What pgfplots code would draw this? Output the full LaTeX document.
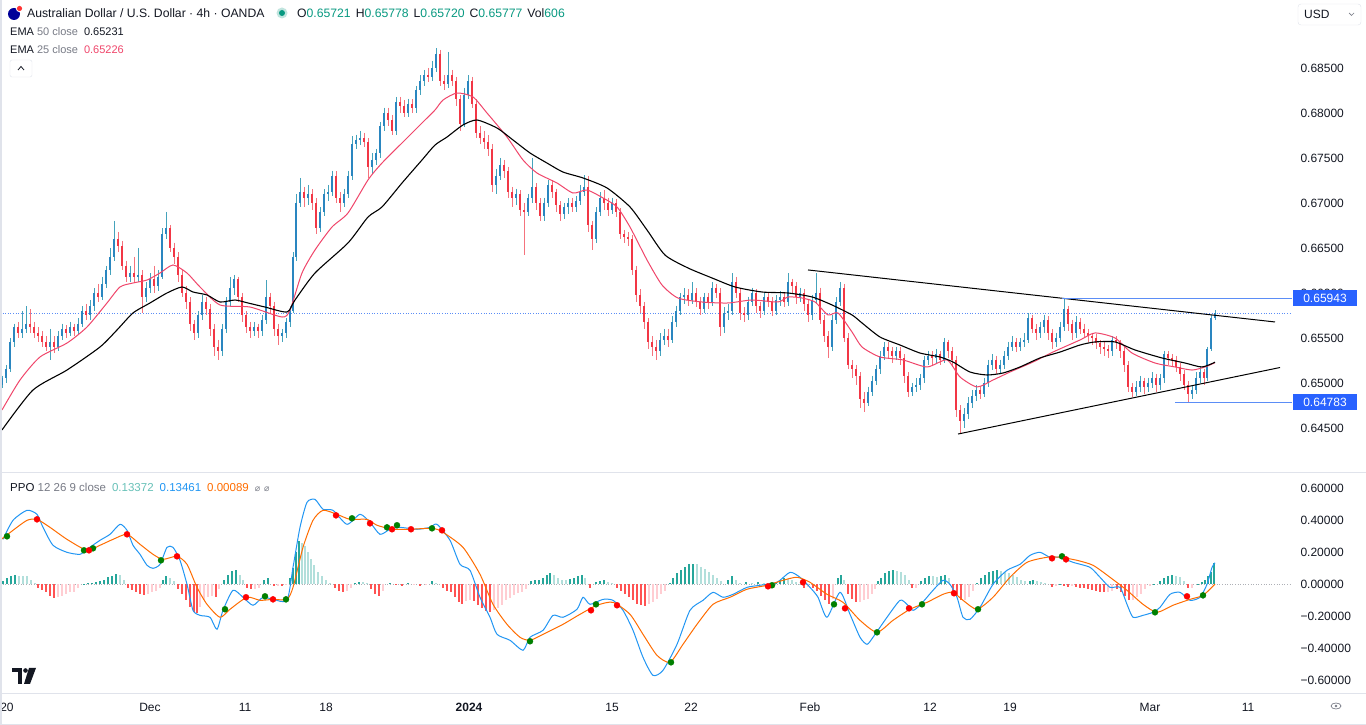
\documentclass[border=0pt]{standalone}
\usepackage{pgfplots}
\usepackage{pgfplotstable}
\pgfplotsset{compat=1.18}
\usepackage{fontspec}
\setmainfont{Liberation Sans}
\newfontfamily\dejavu{DejaVu Sans}
\pgfdeclarelayer{background}
\pgfsetlayers{background,main}

\definecolor{txt}{HTML}{131722}
\definecolor{gry}{HTML}{787B86}
\definecolor{bord}{HTML}{E0E3EB}
\definecolor{upb}{HTML}{2A86C0}
\definecolor{upw}{HTML}{45A3BC}
\definecolor{dnb}{HTML}{F23645}
\definecolor{dnw}{HTML}{F5737D}
\definecolor{emap}{HTML}{F0466B}
\definecolor{ppob}{HTML}{2196F3}
\definecolor{ppoo}{HTML}{FF6D00}
\definecolor{hdk}{HTML}{26A69A}
\definecolor{hlt}{HTML}{B2DFDB}
\definecolor{rdk}{HTML}{FF5252}
\definecolor{rlt}{HTML}{FFCDD2}
\definecolor{lvl}{HTML}{2962FF}
\definecolor{lvll}{HTML}{5B8DF6}
\definecolor{grn}{HTML}{089981}
\definecolor{dotg}{HTML}{008000}
\definecolor{dotr}{HTML}{FF0000}

\newcommand\fs[1]{\fontsize{#1}{#1}\selectfont}

% 4h candles, x in pixels of the original chart
\pgfplotstableread{
x o h l c
2 0.6498 0.6508 0.6494 0.6505
6 0.6505 0.6520 0.6500 0.6515
10 0.6515 0.6550 0.6512 0.6545
14 0.6545 0.6566 0.6540 0.6562
18 0.6562 0.6568 0.6550 0.6555
22 0.6555 0.6580 0.6550 0.6560
26 0.6560 0.6585 0.6555 0.6566
30 0.6566 0.6582 0.6556 0.6562
34 0.6562 0.6568 0.6550 0.6556
38 0.6556 0.6562 0.6545 0.6552
42 0.6552 0.6558 0.6540 0.6545
46 0.6545 0.6552 0.6535 0.6540
50 0.6540 0.6560 0.6525 0.6546
54 0.6546 0.6552 0.6533 0.6540
58 0.6540 0.6558 0.6536 0.6552
62 0.6552 0.6566 0.6548 0.6560
66 0.6560 0.6564 0.6550 0.6556
70 0.6556 0.6568 0.6552 0.6562
74 0.6562 0.6566 0.6552 0.6558
78 0.6558 0.6572 0.6554 0.6566
82 0.6566 0.6585 0.6562 0.6580
86 0.6580 0.6588 0.6570 0.6575
90 0.6575 0.6592 0.6570 0.6585
94 0.6585 0.6605 0.6580 0.6600
98 0.6600 0.6610 0.6590 0.6596
102 0.6596 0.6618 0.6592 0.6610
106 0.6610 0.6630 0.6605 0.6625
110 0.6625 0.6650 0.6620 0.6640
114 0.6640 0.6680 0.6636 0.6660
118 0.6660 0.6668 0.6645 0.6652
122 0.6652 0.6658 0.6625 0.6630
126 0.6630 0.6636 0.6612 0.6618
130 0.6618 0.6630 0.6612 0.6622
134 0.6622 0.6640 0.6612 0.6618
138 0.6618 0.6650 0.6612 0.6620
142 0.6620 0.6625 0.6578 0.6595
146 0.6595 0.6612 0.6590 0.6605
150 0.6605 0.6622 0.6600 0.6615
154 0.6615 0.6630 0.6600 0.6608
158 0.6608 0.6625 0.6602 0.6618
162 0.6618 0.6672 0.6615 0.6665
166 0.6665 0.6690 0.6660 0.6672
170 0.6672 0.6675 0.6645 0.6650
174 0.6650 0.6656 0.6632 0.6640
178 0.6640 0.6645 0.6612 0.6620
182 0.6620 0.6626 0.6595 0.6600
186 0.6600 0.6608 0.6582 0.6590
190 0.6590 0.6595 0.6558 0.6565
194 0.6565 0.6570 0.6548 0.6556
198 0.6556 0.6580 0.6550 0.6575
202 0.6575 0.6598 0.6570 0.6590
206 0.6590 0.6595 0.6575 0.6582
210 0.6582 0.6588 0.6552 0.6560
214 0.6560 0.6565 0.6530 0.6540
218 0.6540 0.6548 0.6525 0.6535
222 0.6535 0.6565 0.6530 0.6560
226 0.6560 0.6595 0.6555 0.6590
230 0.6590 0.6618 0.6585 0.6605
234 0.6605 0.6620 0.6598 0.6615
238 0.6615 0.6618 0.6590 0.6595
242 0.6595 0.6600 0.6568 0.6575
246 0.6575 0.6580 0.6555 0.6562
250 0.6562 0.6568 0.6550 0.6558
254 0.6558 0.6568 0.6552 0.6562
258 0.6562 0.6566 0.6550 0.6558
262 0.6558 0.6575 0.6552 0.6570
266 0.6570 0.6614 0.6565 0.6595
270 0.6595 0.6600 0.6578 0.6585
274 0.6585 0.6590 0.6552 0.6560
278 0.6560 0.6566 0.6542 0.6552
282 0.6552 0.6560 0.6545 0.6555
286 0.6555 0.6572 0.6550 0.6568
290 0.6568 0.6585 0.6562 0.6580
293 0.6580 0.6645 0.6578 0.6640
296 0.6640 0.6710 0.6636 0.6700
300 0.6700 0.6728 0.6695 0.6712
304 0.6712 0.6718 0.6695 0.6705
308 0.6705 0.6720 0.6698 0.6710
312 0.6710 0.6715 0.6692 0.6700
316 0.6700 0.6705 0.6665 0.6672
320 0.6672 0.6695 0.6668 0.6690
324 0.6690 0.6715 0.6685 0.6710
328 0.6710 0.6720 0.6702 0.6712
332 0.6712 0.6736 0.6708 0.6730
336 0.6730 0.6735 0.6700 0.6705
340 0.6705 0.6712 0.6690 0.6700
344 0.6700 0.6716 0.6695 0.6710
348 0.6710 0.6736 0.6705 0.6730
352 0.6730 0.6774 0.6726 0.6765
356 0.6765 0.6776 0.6760 0.6770
360 0.6770 0.6780 0.6764 0.6772
364 0.6772 0.6778 0.6762 0.6768
368 0.6768 0.6772 0.6728 0.6740
372 0.6740 0.6755 0.6732 0.6748
376 0.6748 0.6760 0.6742 0.6755
380 0.6755 0.6790 0.6750 0.6785
384 0.6785 0.6806 0.6780 0.6800
388 0.6800 0.6806 0.6786 0.6792
392 0.6792 0.6798 0.6775 0.6780
396 0.6780 0.6818 0.6776 0.6812
400 0.6812 0.6818 0.6800 0.6808
404 0.6808 0.6814 0.6795 0.6800
408 0.6800 0.6816 0.6795 0.6810
412 0.6810 0.6815 0.6800 0.6805
416 0.6805 0.6830 0.6800 0.6825
420 0.6825 0.6842 0.6820 0.6835
424 0.6835 0.6848 0.6830 0.6842
428 0.6842 0.6850 0.6834 0.6840
432 0.6840 0.6858 0.6836 0.6850
436 0.6850 0.6872 0.6845 0.6866
440 0.6866 0.6870 0.6830 0.6835
444 0.6835 0.6842 0.6826 0.6832
448 0.6832 0.6868 0.6828 0.6842
452 0.6842 0.6848 0.6830 0.6836
456 0.6836 0.6840 0.6808 0.6815
460 0.6815 0.6820 0.6780 0.6788
464 0.6788 0.6828 0.6784 0.6820
468 0.6820 0.6842 0.6815 0.6835
472 0.6835 0.6840 0.6805 0.6810
476 0.6810 0.6815 0.6772 0.6778
480 0.6778 0.6785 0.6765 0.6772
484 0.6772 0.6780 0.6760 0.6768
488 0.6768 0.6775 0.6752 0.6760
492 0.6760 0.6765 0.6712 0.6720
496 0.6720 0.6738 0.6710 0.6730
500 0.6730 0.6750 0.6725 0.6742
504 0.6742 0.6748 0.6728 0.6735
508 0.6735 0.6740 0.6705 0.6712
512 0.6712 0.6718 0.6695 0.6705
516 0.6705 0.6716 0.6698 0.6710
520 0.6710 0.6714 0.6685 0.6692
524 0.6692 0.6700 0.6642 0.6690
528 0.6690 0.6710 0.6685 0.6705
532 0.6705 0.6750 0.6700 0.6718
536 0.6718 0.6722 0.6692 0.6700
540 0.6700 0.6705 0.6680 0.6685
544 0.6685 0.6706 0.6680 0.6700
548 0.6700 0.6726 0.6695 0.6720
552 0.6720 0.6725 0.6705 0.6712
556 0.6712 0.6716 0.6690 0.6698
560 0.6698 0.6702 0.6680 0.6688
564 0.6688 0.6700 0.6682 0.6695
568 0.6695 0.6705 0.6688 0.6700
572 0.6700 0.6706 0.6690 0.6696
576 0.6696 0.6708 0.6690 0.6702
580 0.6702 0.6720 0.6698 0.6712
584 0.6712 0.6731 0.6708 0.6718
588 0.6718 0.6730 0.6668 0.6675
592 0.6675 0.6680 0.6648 0.6660
596 0.6660 0.6695 0.6655 0.6690
600 0.6690 0.6712 0.6685 0.6705
604 0.6705 0.6714 0.6692 0.6700
608 0.6700 0.6706 0.6686 0.6692
612 0.6692 0.6706 0.6688 0.6700
616 0.6700 0.6704 0.6684 0.6690
620 0.6690 0.6694 0.6660 0.6665
624 0.6665 0.6670 0.6655 0.6662
628 0.6662 0.6668 0.6652 0.6660
632 0.6660 0.6664 0.6620 0.6625
636 0.6625 0.6630 0.6590 0.6598
640 0.6598 0.6604 0.6578 0.6585
644 0.6585 0.6590 0.6560 0.6568
648 0.6568 0.6572 0.6538 0.6545
652 0.6545 0.6552 0.6530 0.6540
656 0.6540 0.6548 0.6526 0.6535
660 0.6535 0.6555 0.6530 0.6548
664 0.6548 0.6560 0.6542 0.6552
668 0.6552 0.6560 0.6540 0.6548
672 0.6548 0.6574 0.6544 0.6568
676 0.6568 0.6586 0.6562 0.6580
680 0.6580 0.6600 0.6575 0.6595
684 0.6595 0.6605 0.6588 0.6598
688 0.6598 0.6604 0.6586 0.6592
692 0.6592 0.6612 0.6588 0.6600
696 0.6600 0.6605 0.6584 0.6590
700 0.6590 0.6596 0.6575 0.6582
704 0.6582 0.6600 0.6578 0.6595
708 0.6595 0.6600 0.6582 0.6590
712 0.6590 0.6612 0.6585 0.6605
716 0.6605 0.6610 0.6594 0.6600
720 0.6600 0.6605 0.6552 0.6562
724 0.6562 0.6584 0.6556 0.6578
728 0.6578 0.6588 0.6570 0.6580
732 0.6580 0.6622 0.6576 0.6612
736 0.6612 0.6618 0.6594 0.6600
740 0.6600 0.6605 0.6570 0.6578
744 0.6578 0.6584 0.6568 0.6575
748 0.6575 0.6596 0.6570 0.6590
752 0.6590 0.6606 0.6586 0.6600
756 0.6600 0.6604 0.6578 0.6585
760 0.6585 0.6590 0.6572 0.6580
764 0.6580 0.6600 0.6575 0.6595
768 0.6595 0.6600 0.6584 0.6590
772 0.6590 0.6595 0.6574 0.6580
776 0.6580 0.6598 0.6576 0.6592
780 0.6592 0.6602 0.6586 0.6595
784 0.6595 0.6600 0.6584 0.6590
788 0.6590 0.6622 0.6586 0.6612
792 0.6612 0.6616 0.6600 0.6608
796 0.6608 0.6612 0.6588 0.6595
800 0.6595 0.6606 0.6590 0.6600
804 0.6600 0.6604 0.6580 0.6588
808 0.6588 0.6592 0.6568 0.6575
812 0.6575 0.6598 0.6570 0.6592
816 0.6592 0.6622 0.6588 0.6600
820 0.6600 0.6606 0.6565 0.6570
824 0.6570 0.6576 0.6545 0.6552
828 0.6552 0.6558 0.6528 0.6540
832 0.6540 0.6575 0.6535 0.6570
836 0.6570 0.6595 0.6565 0.6590
840 0.6590 0.6612 0.6585 0.6605
844 0.6605 0.6610 0.6545 0.6550
848 0.6550 0.6555 0.6515 0.6520
852 0.6520 0.6525 0.6505 0.6515
856 0.6515 0.6520 0.6498 0.6508
860 0.6508 0.6512 0.6472 0.6482
864 0.6482 0.6490 0.6468 0.6478
868 0.6478 0.6496 0.6474 0.6490
872 0.6490 0.6508 0.6486 0.6502
876 0.6502 0.6520 0.6498 0.6515
880 0.6515 0.6536 0.6510 0.6530
884 0.6530 0.6545 0.6525 0.6540
888 0.6540 0.6545 0.6528 0.6535
892 0.6535 0.6540 0.6522 0.6530
896 0.6530 0.6540 0.6525 0.6535
900 0.6535 0.6540 0.6520 0.6528
904 0.6528 0.6532 0.6500 0.6508
908 0.6508 0.6512 0.6484 0.6490
912 0.6490 0.6500 0.6485 0.6495
916 0.6495 0.6505 0.6490 0.6498
920 0.6498 0.6510 0.6492 0.6505
924 0.6505 0.6530 0.6500 0.6525
928 0.6525 0.6536 0.6520 0.6530
932 0.6530 0.6535 0.6520 0.6528
936 0.6528 0.6538 0.6522 0.6532
940 0.6532 0.6536 0.6520 0.6526
944 0.6526 0.6550 0.6522 0.6545
948 0.6545 0.6548 0.6528 0.6535
952 0.6535 0.6540 0.6518 0.6525
956 0.6525 0.6530 0.6462 0.6470
960 0.6470 0.6475 0.6444 0.6458
964 0.6458 0.6472 0.6450 0.6466
968 0.6466 0.6484 0.6460 0.6478
972 0.6478 0.6492 0.6472 0.6485
976 0.6485 0.6498 0.6480 0.6492
980 0.6492 0.6496 0.6482 0.6488
984 0.6488 0.6506 0.6484 0.6500
988 0.6500 0.6526 0.6495 0.6520
992 0.6520 0.6532 0.6514 0.6525
996 0.6525 0.6530 0.6510 0.6515
1000 0.6515 0.6526 0.6510 0.6520
1004 0.6520 0.6536 0.6515 0.6530
1008 0.6530 0.6546 0.6525 0.6540
1012 0.6540 0.6552 0.6535 0.6546
1016 0.6546 0.6550 0.6534 0.6540
1020 0.6540 0.6550 0.6535 0.6545
1024 0.6545 0.6555 0.6540 0.6548
1028 0.6548 0.6578 0.6544 0.6572
1032 0.6572 0.6576 0.6555 0.6560
1036 0.6560 0.6565 0.6548 0.6555
1040 0.6555 0.6568 0.6550 0.6562
1044 0.6562 0.6576 0.6556 0.6570
1048 0.6570 0.6574 0.6548 0.6555
1052 0.6555 0.6560 0.6538 0.6545
1056 0.6545 0.6556 0.6540 0.6550
1060 0.6550 0.6568 0.6545 0.6562
1064 0.6562 0.6594 0.6558 0.6582
1068 0.6582 0.6586 0.6558 0.6565
1072 0.6565 0.6570 0.6548 0.6555
1076 0.6555 0.6574 0.6550 0.6568
1080 0.6568 0.6572 0.6554 0.6560
1084 0.6560 0.6566 0.6550 0.6556
1088 0.6556 0.6560 0.6546 0.6552
1092 0.6552 0.6556 0.6542 0.6550
1096 0.6550 0.6554 0.6538 0.6544
1100 0.6544 0.6548 0.6532 0.6540
1104 0.6540 0.6546 0.6530 0.6538
1108 0.6538 0.6542 0.6528 0.6535
1112 0.6535 0.6552 0.6530 0.6548
1116 0.6548 0.6552 0.6538 0.6545
1120 0.6545 0.6548 0.6528 0.6535
1124 0.6535 0.6540 0.6512 0.6520
1128 0.6520 0.6524 0.6490 0.6496
1132 0.6496 0.6500 0.6484 0.6490
1136 0.6490 0.6502 0.6486 0.6496
1140 0.6496 0.6508 0.6490 0.6502
1144 0.6502 0.6506 0.6488 0.6495
1148 0.6495 0.6506 0.6490 0.6500
1152 0.6500 0.6512 0.6494 0.6506
1156 0.6506 0.6510 0.6490 0.6498
1160 0.6498 0.6510 0.6492 0.6505
1164 0.6505 0.6536 0.6500 0.6532
1168 0.6532 0.6536 0.6520 0.6528
1172 0.6528 0.6532 0.6518 0.6525
1176 0.6525 0.6530 0.6512 0.6518
1180 0.6518 0.6522 0.6502 0.6510
1184 0.6510 0.6514 0.6492 0.6498
1188 0.6498 0.6502 0.6479 0.6488
1192 0.6488 0.6498 0.6482 0.6492
1196 0.6492 0.6512 0.6488 0.6506
1200 0.6506 0.6518 0.6500 0.6512
1204 0.6512 0.6516 0.6498 0.6505
1207 0.6505 0.6540 0.6502 0.6538
1211 0.6538 0.6576 0.6535 0.6572
1215 0.6572 0.6581 0.6570 0.6578
}\candles

% EMA 50 (black)
\pgfplotstableread{
x y
2 0.64478
33 0.64922
67 0.65144
100 0.65400
117 0.65589
133 0.65778
150 0.65889
167 0.66000
182 0.66067
193 0.66011
207 0.65978
220 0.65900
235 0.65922
248 0.65889
265 0.65844
287 0.65789
295 0.65922
315 0.66222
348 0.66556
368 0.66844
382 0.66956
402 0.67222
422 0.67478
435 0.67644
447 0.67733
463 0.67867
477 0.67922
497 0.67833
513 0.67700
530 0.67556
547 0.67444
563 0.67344
583 0.67278
607 0.67167
630 0.66956
647 0.66700
665 0.66422
688 0.66278
712 0.66167
735 0.66067
762 0.66011
788 0.66000
812 0.65956
832 0.65867
852 0.65756
862 0.65667
880 0.65511
900 0.65422
920 0.65333
940 0.65289
953 0.65233
970 0.65122
987 0.65089
1003 0.65111
1020 0.65178
1040 0.65278
1060 0.65344
1080 0.65422
1095 0.65456
1115 0.65456
1135 0.65367
1162 0.65278
1185 0.65222
1202 0.65178
1215 0.65231
}\emaslow

% EMA 25 (pink)
\pgfplotstableread{
x y
2 0.64700
20 0.65033
40 0.65289
67 0.65444
87 0.65622
107 0.65889
120 0.66067
133 0.66111
147 0.66144
160 0.66222
173 0.66311
187 0.66222
200 0.66067
220 0.65867
250 0.65844
282 0.65733
290 0.65811
302 0.66222
315 0.66478
332 0.66733
348 0.66889
368 0.67256
382 0.67444
402 0.67667
422 0.67889
435 0.68033
443 0.68144
457 0.68222
473 0.68178
487 0.68000
507 0.67733
523 0.67478
537 0.67333
557 0.67222
573 0.67111
587 0.67144
603 0.67056
617 0.66956
630 0.66733
647 0.66367
662 0.66089
678 0.65944
702 0.65900
728 0.65889
752 0.65922
778 0.65900
788 0.65956
802 0.65944
815 0.65900
828 0.65756
838 0.65778
852 0.65567
862 0.65400
880 0.65289
903 0.65256
927 0.65178
947 0.65256
960 0.65067
977 0.64956
993 0.65033
1010 0.65122
1033 0.65233
1053 0.65344
1080 0.65478
1095 0.65556
1115 0.65500
1132 0.65333
1155 0.65222
1175 0.65178
1192 0.65144
1205 0.65178
1215 0.65226
}\emafast

% PPO line (blue)
\pgfplotstableread{
x y
3 0.281
13 0.400
27 0.4625
37 0.4375
43 0.356
53 0.244
67 0.200
80 0.1875
87 0.219
100 0.275
110 0.3125
120 0.375
127 0.3375
133 0.244
140 0.1875
147 0.119
153 0.100
160 0.125
167 0.231
173 0.231
180 0.150
187 0.000
193 -0.1625
200 -0.194
210 -0.206
217 -0.281
223 -0.1625
233 -0.0375
243 -0.081
253 -0.131
263 -0.081
273 -0.094
287 -0.100
293 0.106
300 0.356
307 0.5125
315 0.531
323 0.469
333 0.4625
347 0.375
360 0.4375
370 0.3875
380 0.3125
390 0.344
400 0.356
417 0.344
430 0.356
437 0.375
450 0.275
460 0.125
470 0.0875
480 -0.081
490 -0.206
497 -0.3125
510 -0.350
523 -0.4125
530 -0.331
543 -0.2875
553 -0.194
563 -0.206
577 -0.156
583 -0.081
590 -0.125
603 -0.094
613 -0.100
623 -0.1625
633 -0.2875
643 -0.456
653 -0.569
663 -0.5375
677 -0.375
690 -0.1625
703 -0.100
713 -0.050
723 -0.081
733 -0.0625
747 -0.019
760 -0.006
777 0.0125
790 0.075
800 0.044
810 -0.019
818 -0.081
827 -0.206
840 -0.050
850 -0.1875
860 -0.331
867 -0.375
873 -0.331
887 -0.206
900 -0.100
907 -0.125
913 -0.1625
920 -0.131
933 -0.0375
943 0.025
950 0.000
957 -0.081
963 -0.206
970 -0.219
980 -0.144
993 0.000
1007 0.0875
1020 0.125
1030 0.181
1040 0.200
1050 0.169
1060 0.169
1073 0.1375
1090 0.106
1100 0.044
1110 -0.019
1120 -0.019
1127 -0.125
1133 -0.206
1143 -0.194
1153 -0.175
1160 -0.144
1170 -0.0625
1180 -0.050
1190 -0.100
1200 -0.081
1207 0.000
1212 0.106
1215 0.1346
}\ppoline

% signal line (orange)
\pgfplotstableread{
x y
0 0.275
13 0.3375
27 0.400
37 0.406
50 0.356
67 0.281
87 0.2125
100 0.244
113 0.281
127 0.3125
140 0.250
153 0.1875
163 0.156
177 0.175
187 0.125
197 -0.019
207 -0.125
220 -0.206
230 -0.156
247 -0.081
260 -0.100
273 -0.094
287 -0.094
293 -0.019
303 0.231
313 0.400
323 0.4625
337 0.4375
350 0.406
367 0.406
377 0.369
393 0.344
410 0.344
433 0.350
443 0.325
463 0.231
480 0.0625
493 -0.125
507 -0.250
520 -0.331
530 -0.350
543 -0.3125
563 -0.250
580 -0.1875
597 -0.131
613 -0.1125
630 -0.1875
643 -0.3125
657 -0.444
670 -0.4875
683 -0.375
697 -0.250
713 -0.125
730 -0.081
747 -0.031
767 -0.006
783 0.025
797 0.044
810 0.0125
827 -0.0625
843 -0.1125
860 -0.225
877 -0.300
893 -0.225
910 -0.156
927 -0.1125
943 -0.0625
953 -0.050
963 -0.100
977 -0.156
993 -0.081
1010 0.044
1027 0.1375
1047 0.169
1060 0.169
1077 0.150
1093 0.119
1110 0.044
1127 -0.0375
1143 -0.125
1157 -0.175
1173 -0.131
1190 -0.094
1203 -0.069
1215 0.001
}\sigline

% histogram: k=0 rising above 0, 1 falling above 0, 2 falling below 0, 3 rising below 0
\pgfplotstableread{
x v k
3 0.02 0
7 0.04 0
11 0.055 0
15 0.06 0
19 0.055 1
23 0.055 1
27 0.05 1
31 0.03 1
35 0.01 1
38 -0.02 2
42 -0.035 2
46 -0.05 2
50 -0.075 2
54 -0.085 2
58 -0.08 3
62 -0.07 3
66 -0.06 3
70 -0.05 3
74 -0.045 3
78 -0.02 3
84 0.005 0
88 0.008 0
92 0.01 0
96 0.015 0
100 0.02 0
104 0.03 0
108 0.045 0
112 0.055 0
116 0.065 0
120 0.06 1
124 0.03 1
128 -0.02 2
132 -0.035 2
136 -0.045 2
140 -0.06 2
144 -0.065 2
148 -0.06 3
152 -0.05 3
156 -0.04 3
160 -0.02 3
163 0.03 0
166 0.05 0
170 0.04 1
174 0.02 1
178 -0.03 2
182 -0.06 2
186 -0.1 2
190 -0.14 2
194 -0.17 2
197 -0.18 2
200 -0.14 3
204 -0.1 3
208 -0.08 3
212 -0.07 3
216 -0.08 2
219 -0.03 3
224 0.03 0
228 0.06 0
232 0.085 0
236 0.09 0
240 0.06 1
243 0.03 1
247 -0.02 2
251 -0.03 2
255 -0.03 3
259 -0.02 3
264 0.03 0
268 0.04 0
274 -0.01 2
278 -0.008 3
282 -0.01 2
286 -0.006 3
290 0.04 0
293 0.1 0
296 0.2 0
299 0.27 0
302 0.26 1
305 0.24 1
308 0.2 1
311 0.16 1
314 0.12 1
318 0.08 1
322 0.05 1
326 0.03 1
330 0.01 1
335 -0.02 2
339 -0.04 2
343 -0.05 2
347 -0.04 3
351 -0.02 3
355 0.01 0
359 0.015 0
363 0.015 1
367 0.01 1
371 -0.03 2
375 -0.06 2
379 -0.07 2
383 -0.04 3
390 0.008 0
396 -0.006 2
402 -0.008 2
408 0.006 0
414 -0.006 3
420 -0.01 2
426 -0.006 3
432 0.02 0
436 0.01 1
443 -0.02 2
447 -0.04 2
451 -0.05 2
455 -0.08 2
459 -0.11 2
462 -0.12 2
466 -0.105 3
470 -0.1 3
474 -0.105 2
478 -0.13 2
482 -0.15 2
486 -0.165 2
490 -0.175 2
494 -0.16 3
498 -0.15 3
502 -0.13 3
506 -0.1 3
510 -0.085 3
514 -0.065 3
518 -0.055 3
522 -0.05 3
526 -0.03 3
531 0.02 0
535 0.03 0
539 0.03 0
543 0.04 0
547 0.06 0
550 0.07 0
554 0.06 1
558 0.04 1
562 0.03 1
566 0.025 1
570 0.035 0
574 0.04 0
578 0.05 0
582 0.06 0
585 0.04 1
590 -0.02 2
596 0.015 0
600 0.02 0
604 0.025 0
608 0.015 1
612 0.01 1
617 -0.02 2
621 -0.04 2
625 -0.06 2
629 -0.08 2
633 -0.1 2
637 -0.12 2
641 -0.13 2
645 -0.135 2
649 -0.125 3
653 -0.11 3
657 -0.09 3
661 -0.06 3
665 -0.04 3
670 0.01 0
673 0.04 0
677 0.07 0
681 0.09 0
685 0.11 0
689 0.125 0
693 0.13 0
697 0.125 1
701 0.11 1
705 0.095 1
709 0.08 1
713 0.06 1
717 0.04 1
721 0.02 1
728 0.03 0
732 0.05 0
736 0.03 1
740 0.01 1
746 0.015 0
752 0.008 1
758 0.012 0
764 0.01 1
770 -0.008 2
776 0.015 0
780 0.03 0
784 0.04 0
788 0.035 1
792 0.03 1
796 0.015 1
800 0.005 1
804 -0.02 2
808 -0.015 3
813 -0.02 2
817 -0.04 2
821 -0.07 2
825 -0.1 2
829 -0.12 2
833 -0.09 3
838 0.04 0
841 0.06 0
844 0.03 1
848 -0.06 2
852 -0.09 2
856 -0.11 2
860 -0.11 3
864 -0.1 3
868 -0.09 3
872 -0.06 3
875 -0.03 3
878 0.02 0
881 0.04 0
885 0.07 0
889 0.085 0
893 0.09 0
897 0.085 1
901 0.075 1
905 0.06 1
909 0.03 1
912 -0.02 2
916 -0.02 3
921 0.02 0
925 0.04 0
929 0.05 0
933 0.05 1
937 0.045 1
941 0.055 0
945 0.06 0
949 0.04 1
953 -0.04 2
957 -0.07 2
961 -0.1 2
965 -0.1 3
969 -0.08 3
973 -0.04 3
977 0.01 0
981 0.04 0
985 0.06 0
989 0.075 0
993 0.085 0
997 0.09 0
1001 0.085 1
1005 0.08 1
1009 0.07 1
1013 0.06 1
1017 0.045 1
1021 0.03 1
1025 0.02 1
1030 0.02 0
1033 0.03 0
1037 0.02 1
1041 0.015 1
1045 0.01 1
1052 -0.015 2
1056 -0.01 3
1060 0.005 0
1064 -0.01 2
1068 -0.015 2
1072 -0.01 3
1076 -0.015 2
1080 -0.02 2
1084 -0.025 2
1088 -0.03 2
1092 -0.035 2
1096 -0.04 2
1100 -0.045 2
1104 -0.05 2
1108 -0.05 3
1112 -0.04 3
1117 -0.03 2
1121 -0.05 2
1125 -0.075 2
1129 -0.1 2
1133 -0.1 3
1137 -0.08 3
1141 -0.06 3
1145 -0.03 3
1150 -0.008 3
1154 0.005 0
1160 0.02 0
1164 0.04 0
1168 0.055 0
1172 0.06 0
1176 0.055 1
1180 0.045 1
1184 0.02 1
1188 -0.02 2
1192 -0.02 3
1198 0.005 0
1202 0.015 0
1205 0.025 0
1208 0.05 0
1211 0.08 0
1214 0.134 0
}\histtab

% cross markers on the PPO line: k=0 green, 1 red
\pgfplotstableread{
x v k
7 0.300 0
37 0.406 1
84 0.2125 0
89 0.2125 1
93 0.225 0
127 0.3125 1
161 0.150 0
177 0.175 1
225 -0.156 0
246 -0.081 1
265 -0.075 0
273 -0.094 1
286 -0.094 0
336 0.431 1
352 0.4125 0
370 0.381 1
387 0.356 0
392 0.344 1
397 0.369 0
411 0.344 1
432 0.350 0
442 0.3375 1
530 -0.356 0
591 -0.1625 1
596 -0.125 0
617 -0.131 1
671 -0.4875 0
768 -0.0125 1
772 -0.006 0
803 0.0125 1
834 -0.125 0
845 -0.150 1
877 -0.300 0
909 -0.150 1
922 -0.125 0
954 -0.056 1
978 -0.156 0
1052 0.1625 1
1062 0.175 0
1066 0.156 1
1155 -0.175 0
1187 -0.075 1
1203 -0.069 0
}\crossdots

\pgfplotsset{
  tvaxis/.style={
    scale only axis, anchor=south west, width=1292pt,
    xmin=0, xmax=1292,
    axis line style={draw=none}, major tick length=0pt,
    yticklabel pos=right,
    yticklabel style={font=\fs{12}, text=txt, anchor=west, xshift=5pt},
    xticklabel style={font=\fs{12}, text=txt},
  },
  upcandle/.style={restrict expr to domain={\thisrow{c}-\thisrow{o}}{0:1}},
  dncandle/.style={restrict expr to domain={\thisrow{c}-\thisrow{o}}{-1:-0.000001}},
  candlebar/.style={draw=none, mark=none, forget plot,
    error bars/.cd, y dir=minus, y explicit, error mark=none,
    error bar style={draw=#1}},
}

\begin{document}
\begin{tikzpicture}[x=1pt,y=1pt]

% price panel
\begin{axis}[tvaxis, at={(0,254)}, height=471pt,
  ymin=0.640222, ymax=0.692556,
  xtick=\empty,
  ytick={0.645,0.65,0.655,0.66,0.665,0.67,0.675,0.68,0.685},
  yticklabels={0.64500,0.65000,0.65500,0.66000,0.66500,0.67000,0.67500,0.68000,0.68500},
]
\coordinate (msw) at (rel axis cs:0,0);
% current price
\addplot[lvll, line width=0.8pt, dash pattern=on 1pt off 1.6pt] coordinates {(0,0.65777) (1292,0.65777)};
% wicks
\addplot[upcandle, candlebar={upw, line width=0.9pt}]
  table[x=x, y=h, y error minus expr=\thisrow{h}-\thisrow{l}] {\candles};
\addplot[dncandle, candlebar={dnw, line width=0.9pt}]
  table[x=x, y=h, y error minus expr=\thisrow{h}-\thisrow{l}] {\candles};
% bodies
\addplot[upcandle, candlebar={upb, line width=2.6pt}]
  table[x=x, y=c, y error minus expr={max(\thisrow{c}-\thisrow{o},0.00006)}] {\candles};
\addplot[dncandle, candlebar={dnb, line width=2.6pt}]
  table[x=x, y=o, y error minus expr={\thisrow{o}-\thisrow{c}}] {\candles};
% EMAs
\addplot[emap, line width=1pt, smooth, tension=0.4] table[x=x, y=y] {\emafast};
\addplot[black, line width=1.1pt, smooth, tension=0.4] table[x=x, y=y] {\emaslow};
% drawn trend lines and levels
\addplot[black, line width=1pt] coordinates {(808,0.66256) (1275,0.65678)};
\addplot[black, line width=1pt] coordinates {(958,0.64433) (1280,0.65172)};
\addplot[lvll, line width=1pt] coordinates {(1062,0.65943) (1292,0.65943)};
\addplot[lvll, line width=1pt] coordinates {(1175,0.64783) (1292,0.64783)};
\end{axis}

% PPO panel
\begin{axis}[tvaxis, at={(0,33)}, height=219pt,
  ymin=-0.6875, ymax=0.68125,
  xtick={7,150,245,326,469,612,691,810,930,1010,1150,1248},
  xticklabels={20,Dec,11,18,\textbf{2024},15,22,Feb,12,19,Mar,11},
  xticklabel style={yshift=-5pt},
  ytick={-0.6,-0.4,-0.2,0,0.2,0.4,0.6},
  yticklabels={−0.60000,−0.40000,−0.20000,0.00000,0.20000,0.40000,0.60000},
]
\addplot[gry!60, dotted, line width=0.6pt] coordinates {(0,0) (1292,0)};
\addplot[ycomb, draw=hdk, line width=1.9pt, restrict expr to domain={\thisrow{k}}{0:0}] table[x=x, y=v] {\histtab};
\addplot[ycomb, draw=hlt, line width=1.9pt, restrict expr to domain={\thisrow{k}}{1:1}] table[x=x, y=v] {\histtab};
\addplot[ycomb, draw=rdk, line width=1.9pt, restrict expr to domain={\thisrow{k}}{2:2}] table[x=x, y=v] {\histtab};
\addplot[ycomb, draw=rlt, line width=1.9pt, restrict expr to domain={\thisrow{k}}{3:3}] table[x=x, y=v] {\histtab};
\addplot[ppob, line width=1pt, smooth, tension=0.4] table[x=x, y=y] {\ppoline};
\addplot[ppoo, line width=1pt, smooth, tension=0.4] table[x=x, y=y] {\sigline};
\addplot[only marks, mark=*, mark size=3pt, mark options={draw=dotg, fill=dotg},
  restrict expr to domain={\thisrow{k}}{0:0}] table[x=x, y=v] {\crossdots};
\addplot[only marks, mark=*, mark size=3pt, mark options={draw=dotr, fill=dotr},
  restrict expr to domain={\thisrow{k}}{1:1}] table[x=x, y=v] {\crossdots};
\end{axis}

% everything else is placed in a frame tied to the price panel's lower left corner
\begin{scope}[shift={(msw)}, shift={(0,-254)}]
\begin{pgfonlayer}{background}
\fill[white] (0,0) rectangle (1366,725);
\end{pgfonlayer}

% frame lines
\draw[bord, line width=1pt] (0,252.5) -- (1366,252.5);
\draw[bord, line width=1pt] (0,31.5) -- (1366,31.5);
\draw[bord, line width=1pt] (0,0.5) -- (1366,0.5);
\draw[bord, line width=1.5pt] (0.75,0) -- (0.75,725);

% price labels on the scale
\fill[lvl] (1293,419) rectangle (1357,435);
\node[text=white, font=\fs{12}] at (1325,427) {0.65943};
\fill[lvl] (1293,314.5) rectangle (1357,330.5);
\node[text=white, font=\fs{12}] at (1325,322.5) {0.64783};

% symbol header
\fill[blue!60!black] (14,711) circle (6);
\fill[white] (19.5,716.5) circle (3.6);
\fill[red!80] (19.5,716.5) circle (2.6);
\node[anchor=west, text=txt, font=\fs{12.2}, inner sep=0] at (27,712) {Australian Dollar / U.S. Dollar · 4h · OANDA};
\fill[grn!25] (282,712) circle (5.5);
\fill[grn] (282,712) circle (3);
\node[anchor=west, text=txt, font=\fs{12.2}, inner sep=0] at (297,712)
  {O\textcolor{grn}{0.65721}\hspace{5pt}H\textcolor{grn}{0.65778}\hspace{5pt}L\textcolor{grn}{0.65720}\hspace{5pt}C\textcolor{grn}{0.65777}\hspace{5pt}Vol\textcolor{grn}{606}};
\node[anchor=west, text=txt, font=\fs{11}, inner sep=0] at (10,693)
  {EMA \textcolor{gry}{50 close}\hspace{6pt}0.65231};
\node[anchor=west, text=txt, font=\fs{11}, inner sep=0] at (10,675)
  {EMA \textcolor{gry}{25 close}\hspace{6pt}\textcolor{emap}{0.65226}};
\draw[bord, rounded corners=2pt] (10,648) rectangle (32,665);
\draw[txt, line width=0.8pt] (18,655) -- (21,658.5) -- (24,655);

% PPO header
\node[anchor=west, text=txt, font=\fs{11.5}, inner sep=0] at (10,238)
  {PPO \textcolor{gry}{12 26 9 close}\hspace{6pt}\textcolor{hdk!70}{0.13372}\hspace{6pt}\textcolor{ppob}{0.13461}\hspace{6pt}\textcolor{ppoo}{0.00089}\hspace{6pt}\textcolor{gry}{\dejavu\fs{9}⌀\hspace{4pt}⌀}};

% currency box
\draw[bord, rounded corners=3pt] (1298,700) rectangle (1361,721);
\node[anchor=west, text=txt, font=\fs{12}, inner sep=0] at (1304,710.5) {USD};
\draw[gry, line width=0.7pt] (1349,712) -- (1351.5,709.5) -- (1354,712);

% logo
\fill[txt] (12,53) rectangle (22,57);
\fill[txt] (17.5,41) rectangle (22,57);
\fill[txt] (25.5,54.5) circle (2.3);
\fill[txt] (29,57) -- (36,57) -- (30,41) -- (24,41) -- cycle;

% eye icon
\draw[gry, line width=0.7pt] (1336,19) ellipse (5 and 3);
\fill[gry] (1336,19) circle (1.3);

\pgfresetboundingbox
\path[use as bounding box] (0,0) rectangle (1366,725);
\end{scope}
\end{tikzpicture}
\end{document}
